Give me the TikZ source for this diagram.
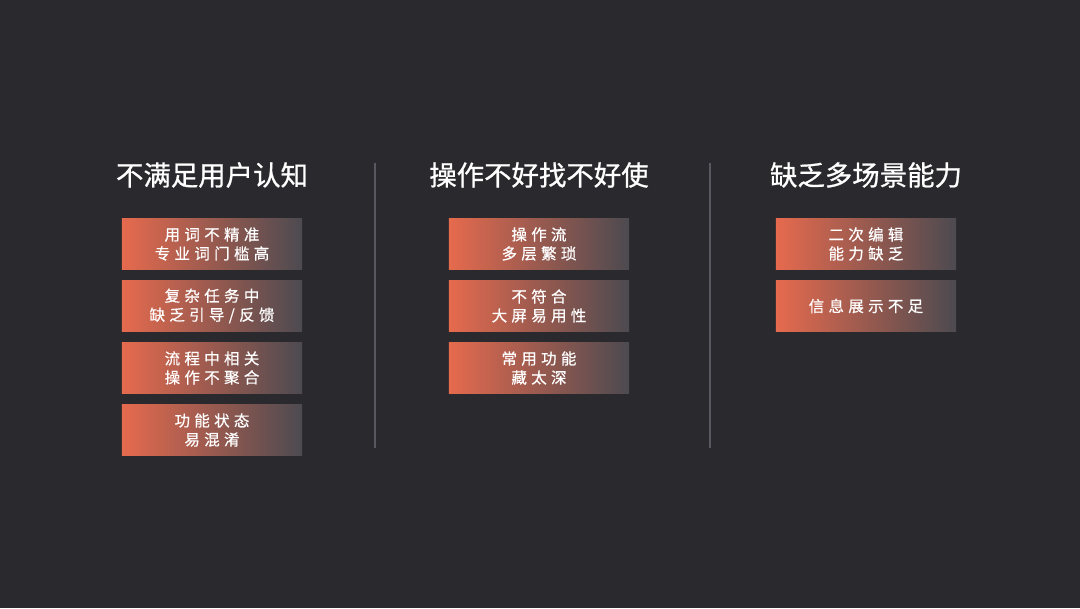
\documentclass[tikz,border=0pt]{standalone}
\usepackage{fontspec}
\setmainfont{Noto Sans CJK SC}
\newfontfamily\cardfont[LetterSpace=28, FakeBold=0.6]{Noto Sans CJK SC}
\newfontfamily\headfont[FakeBold=0.8]{Noto Sans CJK SC}
\usetikzlibrary{positioning}
\definecolor{pagebg}{RGB}{42,42,46}
\definecolor{cardorange}{RGB}{230,106,78}
\definecolor{cardgray}{RGB}{76,74,80}
\definecolor{rulegray}{RGB}{88,88,96}

\begin{document}
\begin{tikzpicture}[x=0.025cm, y=0.025cm,
  card/.style={minimum width=4.5cm, minimum height=1.25cm, inner sep=0pt, left color=cardorange, right color=cardgray, text=white, align=center, font=\cardfont\fontsize{11}{13.5}\selectfont},
  head/.style={text=white, font=\headfont\fontsize{19.5}{22}\selectfont}]
 \fill[pagebg] (0,0) rectangle (1080,608);
 \useasboundingbox (0,0) rectangle (1080,608);
 % column titles
 \node[head] (t1) at (212,433){不满足用户认知};
 \node[head] (t2) at (539,433){操作不好找不好使};
 \node[head] (t3) at (866,433){缺乏多场景能力};
 % dividers
 \draw[rulegray, line width=1pt] (375,445) -- (375,160);
 \draw[rulegray, line width=1pt] (710,445) -- (710,160);
 % cards
 \foreach \txt [count=\i] in {{用词不精准\\专业词门槛高}, {复杂任务中\\缺乏引导/反馈}, {流程中相关\\操作不聚合}, {功能状态\\易混淆}}{
   \node[card] (a\i) at (212,426-62*\i){\txt};
 }
 \foreach \txt [count=\i] in {{操作流\\多层繁琐}, {不符合\\大屏易用性}, {常用功能\\藏太深}}{
   \node[card] (b\i) at (539,426-62*\i){\txt};
 }
 \foreach \txt [count=\i] in {{二次编辑\\能力缺乏}, {信息展示不足}}{
   \node[card] (c\i) at (866,426-62*\i){\txt};
 }
\end{tikzpicture}
\end{document}
